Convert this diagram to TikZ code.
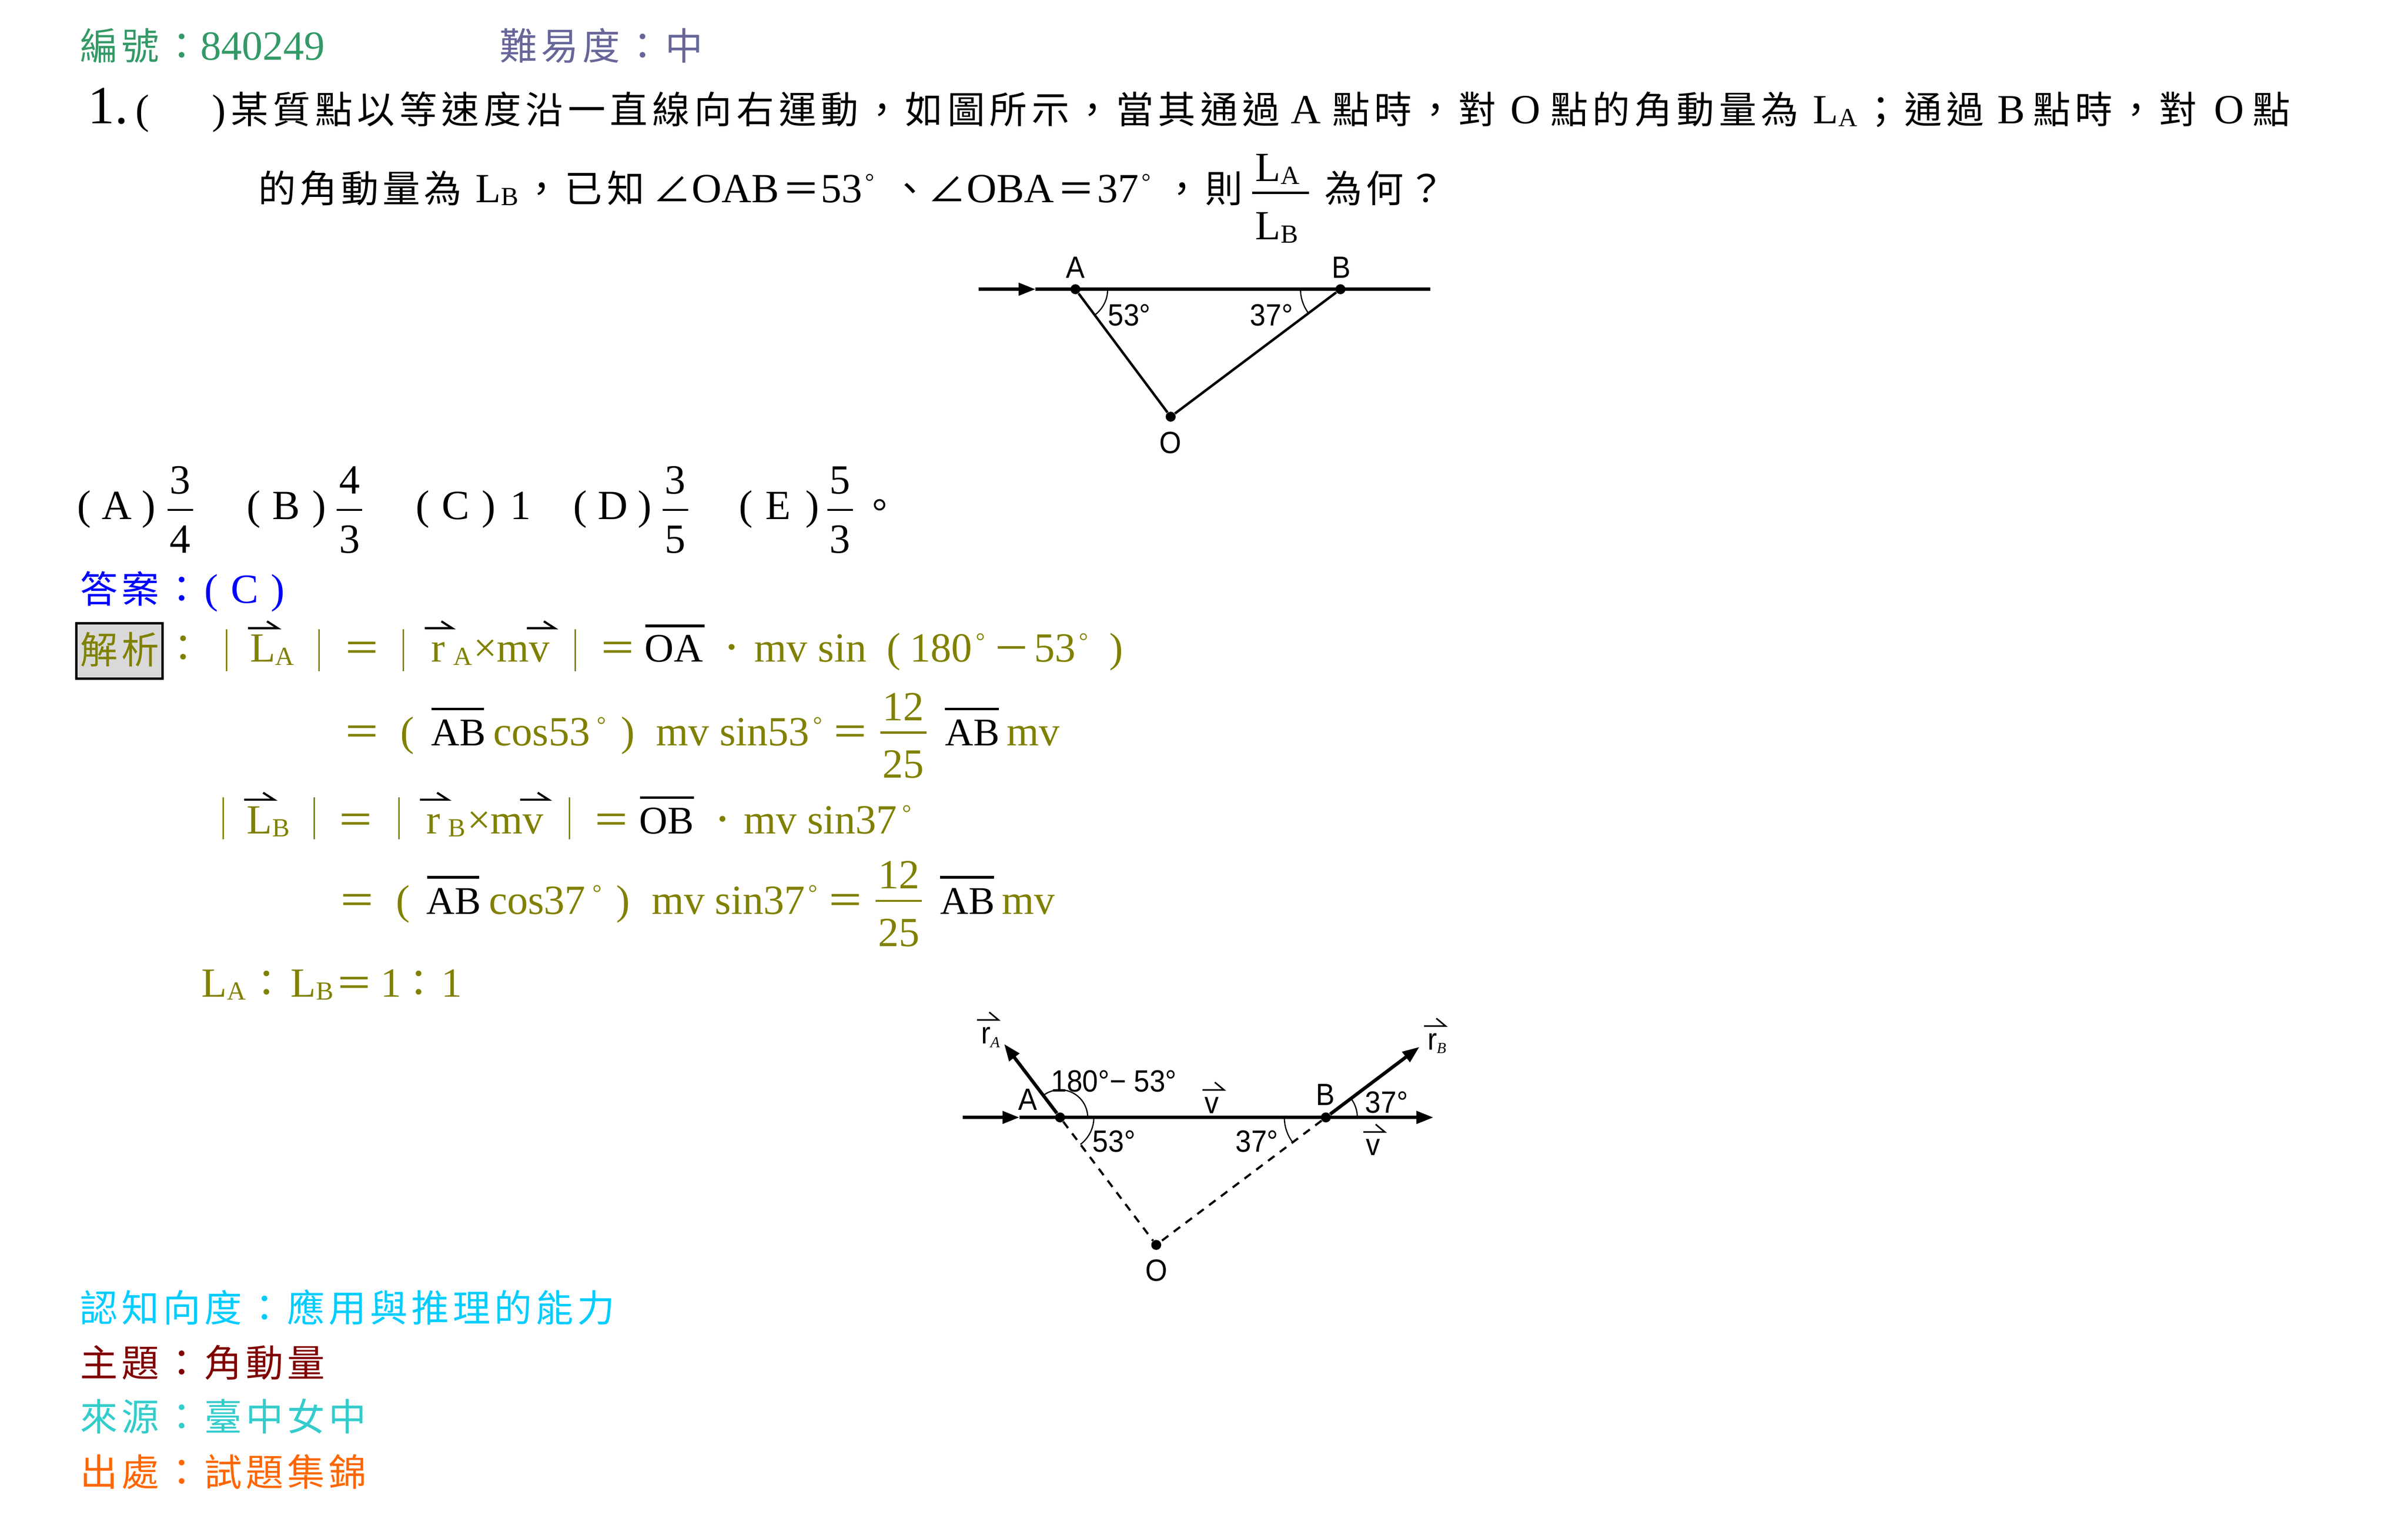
\documentclass[tikz,border=0pt]{standalone}
\usepackage{fontspec}
\setmainfont{Liberation Serif}
\newfontfamily\figfont[FakeStretch=0.92]{Liberation Sans}
\newfontfamily\cjk[LetterSpace=12]{Noto Sans CJK TC}
\newfontfamily\cjktag[LetterSpace=10]{Noto Sans CJK TC}
\usetikzlibrary{arrows.meta}
\definecolor{idgreen}{HTML}{339966}
\definecolor{lvslate}{HTML}{666699}
\definecolor{ansolive}{HTML}{808000}
\definecolor{cogcyan}{HTML}{00CCFF}
\definecolor{topicred}{HTML}{800000}
\definecolor{srcteal}{HTML}{33CCCC}
\definecolor{bookorange}{HTML}{FF6600}
\newcommand{\zh}[1]{{\cjk\fontsize{24.5}{28}\selectfont #1}}
\newcommand{\zhtag}[1]{{\cjktag\fontsize{24.5}{28}\selectfont #1}}
\newcommand{\subs}[1]{\raisebox{-2pt}{\fontsize{17}{17}\selectfont #1}}
\newcommand{\dg}{\raisebox{8.5pt}{\fontsize{15}{15}\selectfont °}}
\newcommand{\segm}[1]{{\fontsize{25.5}{28}\selectfont #1}}
\tikzset{
  tt/.style={anchor=base west,inner sep=0pt,font=\fontsize{27}{30}\selectfont},
  ttc/.style={anchor=base,inner sep=0pt,font=\fontsize{27}{30}\selectfont},
  figt/.style={anchor=base west,inner sep=0pt,font=\figfont\fontsize{20}{22}\selectfont},
  dot/.style={circle,fill=black,inner sep=0pt,minimum size=6.5pt},
  fbar/.style={line width=1.5pt},
  barred/.style={line width=1.7pt},
  harp/.style={line width=1.4pt},
  fharp/.style={line width=1pt},
  absbar/.style={ansolive,line width=1pt},
  ang/.style={line width=.8pt},
  oline/.style={line width=2.1pt},
  seg/.style={line width=1.6pt},
  dseg/.style={line width=1.4pt,dash pattern=on 5.2pt off 4.4pt},
  tri/.style={-{Triangle[length=11pt,width=8pt]}}
}
\newcommand{\harpoon}[3]{\draw[harp] (#1,#2) -- ++(#3,0) -- ++(-7,-4.5);}
\newcommand{\fharpoon}[3]{\draw[fharp] (#1,#2) -- ++(#3,0) -- ++(-6,-5);}
\begin{document}
\begin{tikzpicture}[x=1pt,y=-1pt]
  \useasboundingbox (0,0) rectangle (1567.4,990.7);
  % header
  \node[tt,idgreen] (num) at (52,39) {\zhtag{編號：}840249};
  \node[tt,lvslate] (lev) at (325,39) {\zhtag{難易度：中}};
  % question
  \node[tt,font=\fontsize{35}{38}\selectfont] (qno) at (57,80.3) {1.};
  \node[tt] (qbl) at (88,80.3) {(};
  \node[tt] (qbr) at (138,80.3) {)};
  \node[tt] (q1a) at (150,80.3) {\zh{某質點以等速度沿一直線向右運動，如圖所示，當其通過}};
  \node[tt] (q1b) at (840,80.3) {A};
  \node[tt] (q1c) at (867,80.3) {\zh{點時，對}};
  \node[tt] (q1d) at (983,80.3) {O};
  \node[tt] (q1e) at (1009,80.3) {\zh{點的角動量為}};
  \node[tt] (q1f) at (1180,80.3) {L\subs{A}};
  \node[tt] (q1g) at (1212,80.3) {\zh{；通過}};
  \node[tt] (q1h) at (1300,80.3) {B};
  \node[tt] (q1i) at (1323,80.3) {\zh{點時，對}};
  \node[tt] (q1j) at (1441,80.3) {O};
  \node[tt] (q1k) at (1466,80.3) {\zh{點}};
  \node[tt] (q2a) at (168,131.8) {\zhtag{的角動量為}};
  \node[tt] (q2b) at (309.5,131.8) {L\subs{B}};
  \node[tt] (q2c) at (340,131.8) {\zh{，已知}};
  \node[tt] (q2d) at (425,131.8) {\zh{∠}};
  \node[tt] (q2e) at (450,131.8) {OAB};
  \node[tt] (q2f) at (509,131.8) {\zh{＝}};
  \node[tt] (q2g) at (534,131.8) {53};
  \node[tt] (q2h) at (563,131.8) {\dg};
  \node[tt] (q2i) at (580,131.8) {\zh{、}};
  \node[tt] (q2j) at (604,131.8) {\zh{∠}};
  \node[tt] (q2k) at (629,131.8) {OBA};
  \node[tt] (q2l) at (688,131.8) {\zh{＝}};
  \node[tt] (q2m) at (714,131.8) {37};
  \node[tt] (q2n) at (743,131.8) {\dg};
  \node[tt] (q2o) at (757,131.8) {\zh{，則}};
  \node[tt] (q2p) at (817,118) {L\subs{A}};
  \node[tt] (q2q) at (817,156) {L\subs{B}};
  \draw[fbar] (815,125.5) -- (852,125.5);
  \node[tt] (q2r) at (862,131.8) {\zhtag{為何？}};
  % first figure
  \coordinate (s0) at (637,188.3);
  \coordinate (s1) at (674,188.3);
  \coordinate (s2) at (931,188.3);
  \node[dot] (pA) at (700,188.3) {};
  \node[dot] (pB) at (872.5,188.3) {};
  \node[dot] (pO) at (762,271.3) {};
  \draw[oline,tri] (s0) -- (s1);
  \draw[oline] (s1) -- (s2);
  \draw[seg] (pA) -- (pO);
  \draw[seg] (pB) -- (pO);
  \draw[ang] (721,188.3) arc[start angle=0,end angle=53,radius=21];
  \draw[ang] (846.5,188.3) arc[start angle=180,end angle=143,radius=26];
  \node[figt,anchor=base] (lA) at (700,181) {A};
  \node[figt,anchor=base] (lB) at (873,181) {B};
  \node[figt,anchor=base] (lO) at (762,295) {O};
  \node[figt] (an1) at (721,212) {53°};
  \node[figt] (an2) at (813.5,212) {37°};
  % choices
  \foreach \cx/\cy/\ch/\cn in {50/66/A/ca,160.5/177/B/cb,270.4/287.5/C/cc,373/389/D/cd,480.8/498/E/ce}{
    \node[tt] (\cn l) at (\cx,338) {(};
    \node[tt] (\cn m) at (\cy,338) {\ch};
    \node[tt] (\cn r) at (\cy+26,338) {)};
  }
  \foreach \fx/\fa/\fb/\fn in {117.4/3/4/fa,227.5/4/3/fb,439.5/3/5/fd,546.8/5/3/fe}{
    \node[ttc] (\fn t) at (\fx,321.6) {\fa};
    \node[ttc] (\fn b) at (\fx,360) {\fb};
    \draw[fbar] (\fx-8.3,332) -- (\fx+8.3,332);
  }
  \node[tt] (cone) at (332,338) {1};
  \node[tt] (cend) at (560,338) {\zh{。}};
  % answer
  \node[tt,blue] (answ) at (52,392.5) {\zhtag{答案：}};
  \node[tt,blue] (ansa) at (133,392.5) {(};
  \node[tt,blue] (ansb) at (150,392.5) {C};
  \node[tt,blue] (ansc) at (176,392.5) {)};
  \node[draw=black,line width=1.6pt,fill=black!15,minimum width=56pt,minimum height=36pt,inner sep=0pt,anchor=north west] (box) at (49,405) {};
  \node[tt,ansolive] (xi) at (52,432) {\zhtag{解析}};
  \node[tt,ansolive] (xic) at (107,431) {\zh{：}};
  % first pair of lines
  \draw[absbar] (147.5,409.6) -- (147.5,437);
  \draw[absbar] (207.7,409.6) -- (207.7,437);
  \node[tt,ansolive] (a1a) at (162.5,431) {L\subs{A}};
  \harpoon{161.4}{409}{19.4}
  \node[tt,ansolive] (a1b) at (223,431) {\zh{＝}};
  \draw[absbar] (262.5,409.6) -- (262.5,437);
  \draw[absbar] (374.5,409.6) -- (374.5,437);
  \node[tt,ansolive] (a1c) at (280.5,431) {r};
  \node[tt,ansolive] (a1d) at (295,431) {\subs{A}};
  \node[tt,ansolive] (a1e) at (308,431) {×mv};
  \harpoon{276.5}{409}{17.8}
  \harpoon{343}{409}{18}
  \node[tt,ansolive] (a1f) at (389.5,431) {\zh{＝}};
  \node[tt] (a1g) at (419.5,431) {{\fontsize{26.3}{28}\selectfont OA}};
  \draw[barred] (420,407.5) -- (458.6,407.5);
  \node[tt,ansolive] (a1h) at (464,431) {\zh{．}};
  \node[tt,ansolive] (a1i) at (491,431) {mv sin};
  \node[tt,ansolive] (a1j) at (577,431) {(};
  \node[tt,ansolive] (a1k) at (592,431) {180};
  \node[tt,ansolive] (a1l) at (635,431) {\dg};
  \node[tt,ansolive] (a1m) at (646,431) {\zh{－}};
  \node[tt,ansolive] (a1n) at (673,431) {53};
  \node[tt,ansolive] (a1o) at (702,431) {\dg};
  \node[tt,ansolive] (a1p) at (722,431) {)};
  \node[tt,ansolive] (a2a) at (223,485.5) {\zh{＝}};
  \node[tt,ansolive] (a2b) at (260.6,485.5) {(};
  \node[tt] (a2c) at (280.5,485.5) {\segm{AB}};
  \draw[barred] (281,461.6) -- (315,461.6);
  \node[tt,ansolive] (a2d) at (321,485.5) {cos53};
  \node[tt,ansolive] (a2e) at (388.5,485.5) {\dg};
  \node[tt,ansolive] (a2f) at (404,485.5) {)};
  \node[tt,ansolive] (a2g) at (427,485.5) {mv sin53};
  \node[tt,ansolive] (a2h) at (529,485.5) {\dg};
  \node[tt,ansolive] (a2i) at (541,485.5) {\zh{＝}};
  \node[ttc,ansolive] (a2j) at (588,469) {12};
  \node[ttc,ansolive] (a2k) at (588,506.5) {25};
  \draw[fbar,ansolive] (573,477) -- (603,477);
  \node[tt] (a2l) at (615,485.5) {\segm{AB}};
  \draw[barred] (615,461.6) -- (650,461.6);
  \node[tt,ansolive] (a2m) at (655,485.5) {mv};
  % second pair of lines
  \draw[absbar] (145.2,519) -- (145.2,546.5);
  \draw[absbar] (204.6,519) -- (204.6,546.5);
  \node[tt,ansolive] (b1a) at (160.5,542.8) {L\subs{B}};
  \harpoon{159}{520.6}{19.3}
  \node[tt,ansolive] (b1b) at (219,542.8) {\zh{＝}};
  \draw[absbar] (259.7,519) -- (259.7,546.5);
  \draw[absbar] (370.6,519) -- (370.6,546.5);
  \node[tt,ansolive] (b1c) at (277.3,542.8) {r};
  \node[tt,ansolive] (b1d) at (291.5,542.8) {\subs{B}};
  \node[tt,ansolive] (b1e) at (304,542.8) {×mv};
  \harpoon{273.4}{520.6}{18.1}
  \harpoon{338.6}{520.6}{18.4}
  \node[tt,ansolive] (b1f) at (385.5,542.8) {\zh{＝}};
  \node[tt] (b1g) at (416,542.8) {\segm{OB}};
  \draw[barred] (416.7,519.2) -- (451.8,519.2);
  \node[tt,ansolive] (b1h) at (458,542.8) {\zh{．}};
  \node[tt,ansolive] (b1i) at (484,542.8) {mv sin37};
  \node[tt,ansolive] (b1j) at (587,542.8) {\dg};
  \node[tt,ansolive] (b2a) at (220,595) {\zh{＝}};
  \node[tt,ansolive] (b2b) at (257.6,595) {(};
  \node[tt] (b2c) at (277.5,595) {\segm{AB}};
  \draw[barred] (278,571.1) -- (312,571.1);
  \node[tt,ansolive] (b2d) at (318,595) {cos37};
  \node[tt,ansolive] (b2e) at (385.5,595) {\dg};
  \node[tt,ansolive] (b2f) at (401,595) {)};
  \node[tt,ansolive] (b2g) at (424,595) {mv sin37};
  \node[tt,ansolive] (b2h) at (526,595) {\dg};
  \node[tt,ansolive] (b2i) at (538,595) {\zh{＝}};
  \node[ttc,ansolive] (b2j) at (585,578.5) {12};
  \node[ttc,ansolive] (b2k) at (585,616) {25};
  \draw[fbar,ansolive] (570,586.5) -- (600,586.5);
  \node[tt] (b2l) at (612,595) {\segm{AB}};
  \draw[barred] (612,571.1) -- (647,571.1);
  \node[tt,ansolive] (b2m) at (652,595) {mv};
  % ratio
  \node[tt,ansolive] (ra) at (131,649) {L\subs{A}};
  \node[tt,ansolive] (rb) at (161,649) {\zh{：}};
  \node[tt,ansolive] (rc) at (189,649) {L\subs{B}};
  \node[tt,ansolive] (rd) at (218,649) {\zh{＝}};
  \node[tt,ansolive] (re) at (247.5,649) {1};
  \node[tt,ansolive] (rf) at (260,649) {\zh{：}};
  \node[tt,ansolive] (rg) at (287,649) {1};
  % second figure
  \coordinate (t0) at (626.6,727.5);
  \coordinate (t1) at (663.5,727.5);
  \coordinate (t2) at (933,727.5);
  \coordinate (tA) at (653.6,679.7);
  \coordinate (tB) at (923.9,681.6);
  \node[dot] (qA) at (690,727.5) {};
  \node[dot] (qB) at (863,727.5) {};
  \node[dot] (qO) at (752.6,810.5) {};
  \draw[oline,tri] (t0) -- (t1);
  \draw[oline,tri] (t1) -- (t2);
  \draw[seg,line width=2.2pt,tri] (qA) -- (tA);
  \draw[seg,line width=2.2pt,tri] (qB) -- (tB);
  \draw[dseg] (qA) -- (qO);
  \draw[dseg] (qB) -- (qO);
  \draw[ang] (708,727.5) arc[start angle=0,end angle=-127,radius=18];
  \draw[ang] (712,727.5) arc[start angle=0,end angle=53,radius=22];
  \draw[ang] (836,727.5) arc[start angle=180,end angle=143,radius=27];
  \draw[ang] (883.5,727.5) arc[start angle=0,end angle=-37,radius=20.5];
  \node[figt] (mA) at (662.5,722.7) {A};
  \node[figt] (mB) at (856.5,719.5) {B};
  \node[figt,anchor=base] (mO) at (752.6,834) {O};
  \node[figt] (m1) at (684,710.7) {180°− 53°};
  \node[figt] (m2) at (711,749.9) {53°};
  \node[figt] (m3) at (804,749.9) {37°};
  \node[figt] (m4) at (888.5,724.7) {37°};
  \node[figt] (mv1) at (784,725) {v};
  \fharpoon{782.7}{709.6}{14}
  \node[figt] (mv2) at (889,752.3) {v};
  \fharpoon{887.4}{737}{14}
  \node[figt] (mr1) at (638.5,679.4) {r};
  \node[anchor=base west,inner sep=0pt,font=\itshape\fontsize{10}{10}\selectfont] (mr1s) at (644.5,682) {A};
  \fharpoon{635.9}{664}{14}
  \node[figt] (mr2) at (929,683.6) {r};
  \node[anchor=base west,inner sep=0pt,font=\itshape\fontsize{10}{10}\selectfont] (mr2s) at (935,685.8) {B};
  \fharpoon{926.9}{668}{14}
  % classification
  \node[tt,cogcyan] (cog) at (52,860.5) {\zhtag{認知向度：應用與推理的能力}};
  \node[tt,topicred] (top) at (52,896.5) {\zhtag{主題：角動量}};
  \node[tt,srcteal] (src) at (52,931.5) {\zhtag{來源：臺中女中}};
  \node[tt,bookorange] (bk) at (52,967.5) {\zhtag{出處：試題集錦}};
\end{tikzpicture}
\end{document}
